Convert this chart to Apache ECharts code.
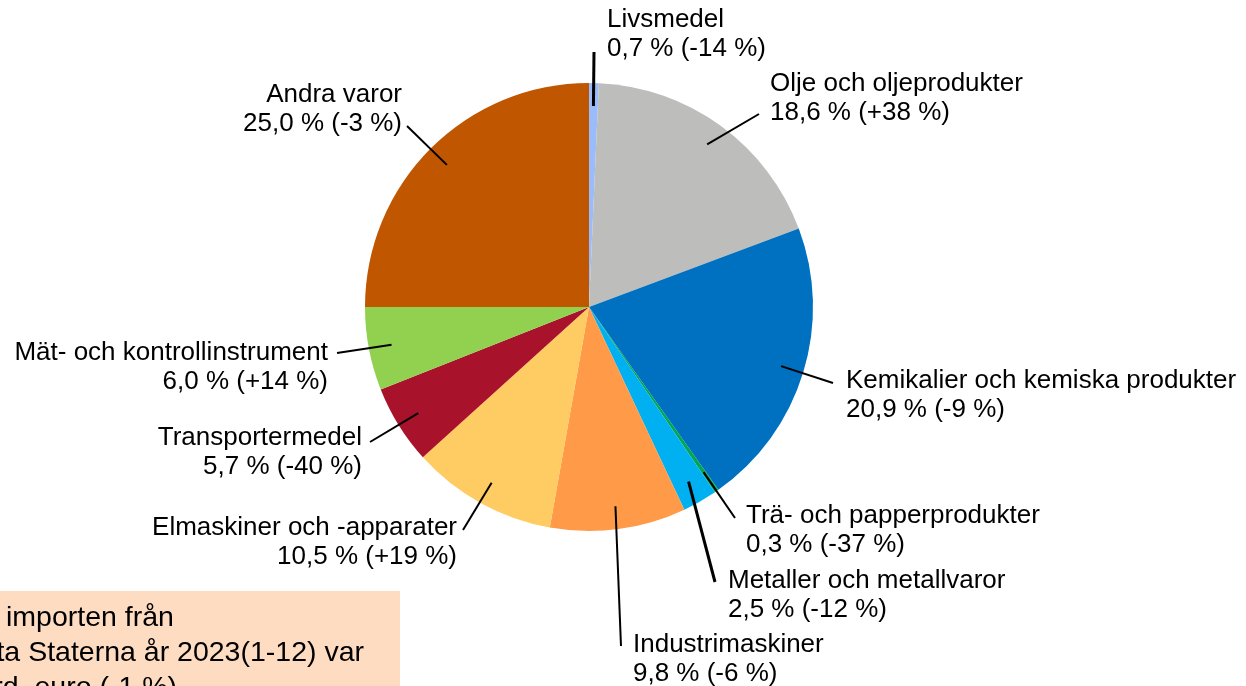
<!DOCTYPE html>
<html lang="sv" style="height: 100%">
<head>
    <meta charset="utf-8">
    <title>Import från Förenta Staterna 2023</title>
    <script src="https://cdn.jsdelivr.net/npm/echarts@6/dist/echarts.min.js"></script>
</head>
<body style="height: 100%; margin: 0">
    <div id="main" style="width: 1246px; height: 686px"></div>
    <script type="text/javascript">

        // varugrupper, andel av importen (%) och förändring (%)
        var categories = ['Livsmedel', 'Olje och oljeprodukter', 'Kemikalier och kemiska produkter',
                          'Trä- och papperprodukter', 'Metaller och metallvaror', 'Industrimaskiner',
                          'Elmaskiner och -apparater', 'Transportermedel', 'Mät- och kontrollinstrument',
                          'Andra varor'];
        var shares  = [0.7, 18.6, 20.9, 0.3, 2.5, 9.8, 10.5, 5.7, 6.0, 25.0];
        var changes = [-14, 38, -9, -37, -12, -6, 19, -40, 14, -3];

        var colors = ['#9bbcfa', '#bdbebc', '#0070c0', '#00a651', '#00b0f0',
                      '#ff9a48', '#ffcc63', '#a8132b', '#92d050', '#c05600'];

        // etikettplacering: [x, y (överkant), justering, linjens slut x, y]
        var labelPlace = [
            [607, 5, 'left', 594, 52],
            [770, 69, 'left', 759, 114],
            [846, 366, 'left', 833, 383],
            [746, 501, 'left', 735, 518],
            [728, 566, 'left', 715, 582],
            [633, 630, 'left', 621, 646],
            [457, 513, 'right', 463, 530],
            [362, 423, 'right', 370, 442],
            [328, 338, 'right', 337, 353],
            [402, 80, 'right', 407, 126]
        ];

        function fmt(v) { return v.toFixed(1).replace('.', ','); }
        function fmtChange(v) { return (v > 0 ? '+' : '') + v; }

        var pieData = categories.map(function (name, i) {
            return { name: name, value: shares[i], itemStyle: { color: colors[i] } };
        });

        var lineData = categories.map(function (name, i) {
            return {
                name: name,
                value: shares[i],
                labelLine: { lineStyle: { width: (i === 0 || i === 4) ? 3 : 2 } }
            };
        });

        var myChart = echarts.init(document.getElementById('main'));

        var option = {
            animation: false,
            textStyle: { fontFamily: 'Liberation Sans, Arial, sans-serif' },
            graphic: [{
                type: 'group',
                children: [{
                    type: 'rect',
                    shape: { x: -200, y: 591, width: 600, height: 200 },
                    style: { fill: '#fddcc2' }
                }, {
                    type: 'text',
                    x: -78, y: 601,
                    style: {
                        text: 'Totala importen från\nFörenta Staterna år 2023(1-12) var\n4,5 mrd. euro (-1 %)',
                        fontSize: 28.5, lineHeight: 35,
                        fontFamily: 'Liberation Sans, Arial, sans-serif',
                        fill: '#000', verticalAlign: 'top'
                    }
                }]
            }],
            series: [
                {
                    type: 'pie',
                    center: [589, 307],
                    radius: 224,
                    startAngle: 90,
                    clockwise: true,
                    silent: true,
                    label: { show: false },
                    labelLine: { show: false },
                    itemStyle: { borderWidth: 0 },
                    data: pieData
                },
                {
                    // osynlig pie som bara bär etiketter och hänvisningslinjer
                    type: 'pie',
                    center: [589, 307],
                    radius: 201,
                    startAngle: 90,
                    clockwise: true,
                    silent: true,
                    z: 3,
                    avoidLabelOverlap: false,
                    itemStyle: { color: 'rgba(0,0,0,0)', borderWidth: 0 },
                    label: {
                        show: true,
                        position: 'outside',
                        color: '#000',
                        fontSize: 26,
                        lineHeight: 29,
                        fontFamily: 'Liberation Sans, Arial, sans-serif',
                        formatter: function (p) {
                            return p.name + '\n' + fmt(shares[p.dataIndex]) + ' % (' + fmtChange(changes[p.dataIndex]) + ' %)';
                        }
                    },
                    labelLine: { show: true, length: 10, length2: 10, smooth: false,
                                 lineStyle: { color: '#000', width: 2 } },
                    labelLayout: function (params) {
                        var lp = labelPlace[params.dataIndex];
                        var start = params.labelLinePoints[0];
                        return {
                            x: lp[0], y: lp[1],
                            align: lp[2], verticalAlign: 'top',
                            labelLinePoints: [start, [lp[3], lp[4]]]
                        };
                    },
                    data: lineData
                }
            ]
        };

        myChart.setOption(option);
    </script>
</body>
</html>
